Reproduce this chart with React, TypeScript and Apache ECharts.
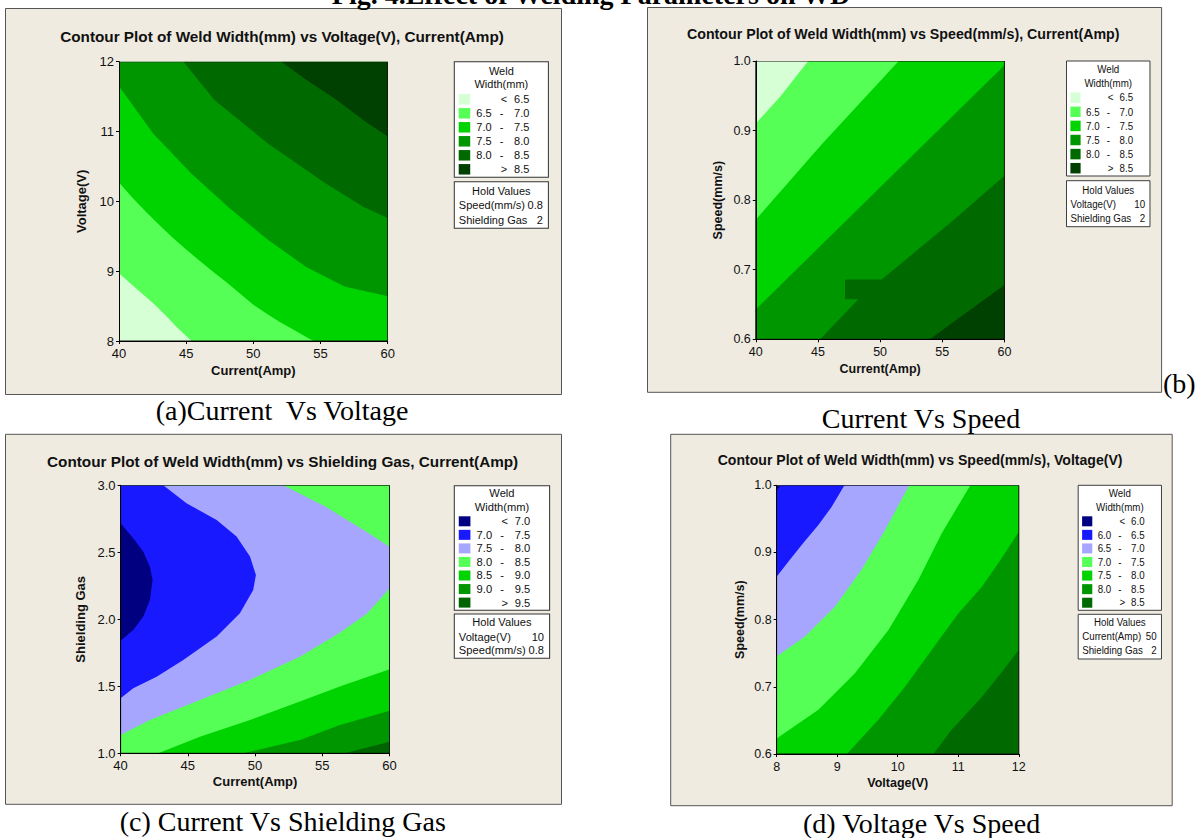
import React, { useEffect, useRef } from 'react';
import * as echarts from 'echarts';

// ---------------- DATA ----------------
const FIG_TITLE = 'Fig. 4.Effect of Welding Parameters on WD';
const plotTitles = [
  'Contour Plot of Weld Width(mm) vs Voltage(V), Current(Amp)',
  'Contour Plot of Weld Width(mm) vs Speed(mm/s), Current(Amp)',
  'Contour Plot of Weld Width(mm) vs Shielding Gas, Current(Amp)',
  'Contour Plot of Weld Width(mm) vs Speed(mm/s), Voltage(V)',
];
const captions = ['(a)Current  Vs Voltage', 'Current Vs Speed', '(c) Current Vs Shielding Gas', '(d) Voltage Vs Speed'];
const captionB = '(b)';

// axes
const currentRange = [40, 60];
const voltageRange = [8, 12];
const speedRange = [0.6, 1.0];
const gasRange = [1.0, 3.0];
const currentStep = 5;
const voltageStep = 1;
const speedStep = 0.1;
const gasStep = 0.5;

// legend breakpoints
const breaksAB = [6.5, 7.0, 7.5, 8.0, 8.5];
const breaksC = [7.0, 7.5, 8.0, 8.5, 9.0, 9.5];
const breaksD = [6.0, 6.5, 7.0, 7.5, 8.0, 8.5];

// hold values
const holdA = [['Speed(mm/s)', '0.8'], ['Shielding Gas', '2']];
const holdB = [['Voltage(V)', '10'], ['Shielding Gas', '2']];
const holdC = [['Voltage(V)', '10'], ['Speed(mm/s)', '0.8']];
const holdD = [['Current(Amp)', '50'], ['Shielding Gas', '2']];

// colours per band (low -> high)
const greens = ['#D6FFD6', '#55FF55', '#00D400', '#009600', '#006A00', '#004000'];
const blueGreensC = ['#000080', '#1919FF', '#A6A6FF', '#55FF55', '#00D400', '#009600', '#006400'];
const blueGreensD = ['#000080', '#1919FF', '#A6A6FF', '#55FF55', '#00D400', '#009600', '#006A00'];

// contour lines, [x, y] in data units
// (a) Current vs Voltage
const a_c65 = [[40, 8.97], [41.3, 8.75], [42.55, 8.54], [43.5, 8.36], [44.29, 8.2], [45.4, 8]];
const a_c70 = [[40, 10.27], [41, 10.05], [42, 9.85], [43, 9.66], [44, 9.48], [45, 9.31], [46, 9.15], [47, 8.99], [48, 8.84], [49, 8.68], [50, 8.52], [51, 8.39], [52, 8.27], [53, 8.16], [54, 8.05], [54.5, 8]];
const a_c75 = [[40, 11.65], [42.54, 10.97], [45.38, 10.4], [48.23, 9.9], [51.08, 9.45], [53.93, 9.06], [56.78, 8.78], [60, 8.64]];
const a_c80 = [[44.8, 12], [47.1, 11.45], [51.08, 10.83], [55.36, 10.26], [58.2, 9.92], [60, 9.76]];
const a_c85 = [[52.08, 12], [53.93, 11.74], [56.21, 11.45], [58.2, 11.16], [60, 10.93]];
// (b) Current vs Speed
const b_c65 = [[40, 0.91], [41.97, 0.949], [44.22, 1.0]];
const b_c70 = [[40, 0.772], [45.4, 0.882], [51.5, 1.0]];
const b_c75 = [[40, 0.643], [60, 0.994]];
const b_c80 = [[45.17, 0.6], [48.25, 0.6575], [47.18, 0.6575], [47.18, 0.686], [50.13, 0.686], [55.89, 0.771], [60, 0.835]];
const b_c85 = [[54.0, 0.6], [60, 0.678]];
// (c) Current vs Shielding Gas
const c_c70 = [[40, 2.716], [40.94, 2.604], [41.69, 2.505], [42.18, 2.393], [42.38, 2.294], [42.18, 2.144], [41.69, 2.02], [40.94, 1.92], [40, 1.84]];
const c_c75 = [[43.17, 3.0], [44.9, 2.866], [47.14, 2.741], [48.62, 2.617], [49.62, 2.468], [50.06, 2.331], [49.86, 2.219], [48.87, 2.045], [47.14, 1.871], [44.66, 1.697], [42.68, 1.572], [40.94, 1.485], [40, 1.41]];
const c_c80 = [[52.09, 3.0], [55.22, 2.841], [58.07, 2.667], [60, 2.542], [60, 2.231], [58.35, 2.045], [56.3, 1.9], [53.33, 1.721], [49.6, 1.547], [45.9, 1.398], [42.18, 1.249], [40, 1.137]];
const c_c85 = [[42.8, 1.0], [45.9, 1.124], [49.62, 1.249], [53.33, 1.386], [56.3, 1.498], [60, 1.627]];
const c_c90 = [[49.12, 1.0], [53.33, 1.1], [56.3, 1.211], [60, 1.318]];
const c_c95 = [[56.64, 1.0], [60, 1.087]];
// (d) Voltage vs Speed
const d_c60 = [[8, 0.992], [8.07, 1.0]];
const d_c65 = [[9.12, 1.0], [8.91, 0.968], [8.69, 0.941], [8.44, 0.914], [8.19, 0.886], [8, 0.864]];
const d_c70 = [[10.19, 1.0], [9.79, 0.933], [9.4, 0.874], [8.96, 0.819], [8.47, 0.775], [8, 0.745]];
const d_c75 = [[11.2, 1.0], [10.73, 0.929], [10.34, 0.859], [9.85, 0.785], [9.29, 0.72], [8.69, 0.666], [8, 0.623]];
const d_c80 = [[9.16, 0.6], [9.68, 0.651], [10.12, 0.7], [10.56, 0.755], [11.0, 0.809], [11.39, 0.849], [11.7, 0.889], [12, 0.931]];
const d_c85 = [[10.59, 0.6], [10.89, 0.636], [11.39, 0.685], [11.7, 0.72], [12, 0.755]];

// ---------------- BUILD ----------------
const FONT = "'Liberation Sans', Arial, sans-serif";
const SERIF = "'Liberation Serif', 'Times New Roman', serif";

const rect = (xr: number[], yr: number[]) => [[xr[0], yr[0]], [xr[1], yr[0]], [xr[1], yr[1]], [xr[0], yr[1]]];

function layersA() {
  const [x0, x1] = currentRange, [y0, y1] = voltageRange;
  return [
    { c: greens[0], p: rect(currentRange, voltageRange) },
    { c: greens[1], p: [...a_c65, [x1, y0], [x1, y1], [x0, y1]] },
    { c: greens[2], p: [...a_c70, [x1, y0], [x1, y1], [x0, y1]] },
    { c: greens[3], p: [...a_c75, [x1, y1], [x0, y1]] },
    { c: greens[4], p: [...a_c80, [x1, y1]] },
    { c: greens[5], p: [...a_c85, [x1, y1]] },
  ];
}
function layersB() {
  const [x0, x1] = currentRange, [y0, y1] = speedRange;
  return [
    { c: greens[0], p: rect(currentRange, speedRange) },
    { c: greens[1], p: [...b_c65, [x1, y1], [x1, y0], [x0, y0]] },
    { c: greens[2], p: [...b_c70, [x1, y1], [x1, y0], [x0, y0]] },
    { c: greens[3], p: [...b_c75, [x1, y0], [x0, y0]] },
    { c: greens[4], p: [...b_c80, [x1, y0]] },
    { c: greens[5], p: [...b_c85, [x1, y0]] },
  ];
}
function layersC() {
  const [x0, x1] = currentRange, [y0, y1] = gasRange;
  const P = blueGreensC;
  return [
    { c: P[6], p: rect(currentRange, gasRange) },
    { c: P[5], p: [...c_c95, [x1, y1], [x0, y1], [x0, y0]] },
    { c: P[4], p: [...c_c90, [x1, y1], [x0, y1], [x0, y0]] },
    { c: P[3], p: [...c_c85, [x1, y1], [x0, y1], [x0, y0]] },
    { c: P[2], p: [...c_c80, [x0, y1]] },
    { c: P[1], p: [...c_c75, [x0, y1]] },
    { c: P[0], p: [...c_c70] },
  ];
}
function layersD() {
  const [x0, x1] = voltageRange, [y0, y1] = speedRange;
  const P = blueGreensD;
  return [
    { c: P[0], p: rect(voltageRange, speedRange) },
    { c: P[1], p: [...d_c60, [x1, y1], [x1, y0], [x0, y0]] },
    { c: P[2], p: [...d_c65, [x0, y0], [x1, y0], [x1, y1]] },
    { c: P[3], p: [...d_c70, [x0, y0], [x1, y0], [x1, y1]] },
    { c: P[4], p: [...d_c75, [x0, y0], [x1, y0], [x1, y1]] },
    { c: P[5], p: [...d_c80, [x1, y0]] },
    { c: P[6], p: [...d_c85, [x1, y0]] },
  ];
}

const fmtInt = (v: number) => String(Math.round(v));
const fmt1 = (v: number) => v.toFixed(1);

const panels = [
  {
    grid: { left: 119, top: 61.7, width: 268.7, height: 279.3 },
    x: { range: currentRange, step: currentStep, fmt: fmtInt, name: 'Current(Amp)', gap: 23 },
    y: { range: voltageRange, step: voltageStep, fmt: fmtInt, name: 'Voltage(V)', gap: 31 },
    layers: layersA(),
    box: { x: 5.5, y: 8.5, w: 556, h: 386 },
    title: { x: 282, y: 36, s: 1 },
    caption: { x: 282, y: 410 },
    legend: { x: 454.3, y: 61.7, w: 94.1, h1: 115.6, hd1: 9, hd2: 22.6, r0: 37.6, rs: 14, sw: 10.5, hy: 120, h2: 46.6, ht: 9.6, hr: [23.6, 38.3] },
    breaks: breaksAB, colors: greens, hold: holdA, fs: 13,
  },
  {
    grid: { left: 755.8, top: 61, width: 248.6, height: 278.3 },
    x: { range: currentRange, step: currentStep, fmt: fmtInt, name: 'Current(Amp)', gap: 23 },
    y: { range: speedRange, step: speedStep, fmt: fmt1, name: 'Speed(mm/s)', gap: 31 },
    layers: layersB(),
    box: { x: 647.5, y: 7.5, w: 514.1, h: 384.8 },
    title: { x: 903.2, y: 34.3, s: 0.93 },
    caption: { x: 921, y: 418.3 },
    legend: { x: 1066.5, y: 61, w: 83.5, h1: 115, hd1: 8.7, hd2: 22.3, r0: 36.7, rs: 14.1, sw: 10.5, hy: 119.7, h2: 46, ht: 9.6, hr: [23.6, 37.6] },
    breaks: breaksAB, colors: greens, hold: holdB, fs: 12.5,
  },
  {
    grid: { left: 120.6, top: 485.3, width: 269, height: 268 },
    x: { range: currentRange, step: currentStep, fmt: fmtInt, name: 'Current(Amp)', gap: 22 },
    y: { range: gasRange, step: gasStep, fmt: fmt1, name: 'Shielding Gas', gap: 34 },
    layers: layersC(),
    box: { x: 5.5, y: 434.3, w: 556, h: 370 },
    title: { x: 282.6, y: 461, s: 1 },
    caption: { x: 282.8, y: 821.7 },
    legend: { x: 454.3, y: 485.7, w: 95.3, h1: 124.6, hd1: 7.6, hd2: 21.6, r0: 35.6, rs: 13.55, sw: 10, hy: 128.3, h2: 44.3, ht: 8.3, hr: [22.7, 35.7] },
    breaks: breaksC, colors: blueGreensC, hold: holdC, fs: 13,
  },
  {
    grid: { left: 776.6, top: 485.3, width: 242.2, height: 268.7 },
    x: { range: voltageRange, step: voltageStep, fmt: fmtInt, name: 'Voltage(V)', gap: 22.8 },
    y: { range: speedRange, step: speedStep, fmt: fmt1, name: 'Speed(mm/s)', gap: 30 },
    layers: layersD(),
    box: { x: 670.7, y: 434.3, w: 501.5, h: 371.4 },
    title: { x: 920.1, y: 460, s: 0.92 },
    caption: { x: 921.6, y: 823.3 },
    legend: { x: 1078.2, y: 485.3, w: 83.3, h1: 125, hd1: 8, hd2: 22, r0: 36, rs: 13.57, sw: 10, hy: 129, h2: 44.7, ht: 8, hr: [22.4, 36.4] },
    breaks: breaksD, colors: blueGreensD, hold: holdD, fs: 12.5,
  },
];

function legendGroup(L: any, breaks: number[], colors: string[], hold: string[][]) {
  const W = 94;
  const ch: any[] = [];
  const txt = (text: string, x: number, y: number, align = 'left') => ({
    type: 'text', x, y,
    style: { text, fontSize: 11, fontFamily: FONT, fill: '#111', align, verticalAlign: 'middle' },
  });
  ch.push({ type: 'rect', shape: { x: 0, y: 0, width: W, height: L.h1 }, style: { fill: '#fff', stroke: '#333', lineWidth: 1 } });
  ch.push(txt('Weld', W / 2, L.hd1, 'center'));
  ch.push(txt('Width(mm)', W / 2, L.hd2, 'center'));
  const n = breaks.length + 1;
  for (let k = 0; k < n; k++) {
    const yy = L.r0 + k * L.rs;
    ch.push({ type: 'rect', shape: { x: 4.4, y: yy - L.sw / 2, width: 11.5, height: L.sw }, style: { fill: colors[k] } });
    if (k === 0) {
      ch.push(txt('<', 46.5, yy));
      ch.push(txt(breaks[0].toFixed(1), 59.7, yy));
    } else if (k === n - 1) {
      ch.push(txt('>', 46.5, yy));
      ch.push(txt(breaks[n - 2].toFixed(1), 59.7, yy));
    } else {
      ch.push(txt(breaks[k - 1].toFixed(1), 22, yy));
      ch.push(txt('-', 45.3, yy));
      ch.push(txt(breaks[k].toFixed(1), 59.7, yy));
    }
  }
  ch.push({ type: 'rect', shape: { x: 0, y: L.hy, width: W, height: L.h2 }, style: { fill: '#fff', stroke: '#333', lineWidth: 1 } });
  ch.push(txt('Hold Values', W / 2, L.hy + L.ht, 'center'));
  hold.forEach(([lab, val], j) => {
    const yy = L.hy + L.hr[j];
    ch.push(txt(lab, 4.5, yy));
    ch.push(txt(val, 88.5, yy, 'right'));
  });
  return { type: 'group', x: L.x, y: L.y, scaleX: L.w / W, z: 10, children: ch };
}

function buildOption() {
  const grid: any[] = [], xAxis: any[] = [], yAxis: any[] = [], series: any[] = [], graphic: any[] = [];
  const BG = '#EFEBE1';

  graphic.push({
    type: 'text', x: 591, y: -6, z: 10,
    style: { text: FIG_TITLE, font: `bold 28px ${SERIF}`, fill: '#000', align: 'center', verticalAlign: 'middle' },
  });

  panels.forEach((P, i) => {
    graphic.push({
      type: 'rect', z: -10,
      shape: { x: P.box.x, y: P.box.y, width: P.box.w, height: P.box.h },
      style: { fill: BG, stroke: '#555', lineWidth: 1 },
    });
    graphic.push({
      type: 'text', x: P.title.x, y: P.title.y, scaleX: P.title.s, z: 10,
      style: { text: plotTitles[i], font: `bold 15.3px ${FONT}`, fill: '#111', align: 'center', verticalAlign: 'middle' },
    });
    graphic.push({
      type: 'text', x: P.caption.x, y: P.caption.y, z: 10,
      style: { text: captions[i], font: `28px ${SERIF}`, fill: '#000', align: 'center', verticalAlign: 'middle' },
    });
    graphic.push(legendGroup(P.legend, P.breaks, P.colors, P.hold));

    grid.push({ ...P.grid, show: false });
    const axisCommon = (A: any) => ({
      gridIndex: i, type: 'value', min: A.range[0], max: A.range[1], interval: A.step,
      name: A.name, nameLocation: 'middle', nameGap: A.gap, z: 5,
      nameTextStyle: { fontFamily: FONT, fontWeight: 'bold', fontSize: P.fs, color: '#111' },
      axisLine: { show: true, onZero: false, lineStyle: { color: '#000', width: 1 } },
      axisTick: { show: true, inside: false, length: 3, lineStyle: { color: '#000' } },
      axisLabel: { fontFamily: FONT, fontSize: P.fs, color: '#111', margin: 5, formatter: A.fmt },
      splitLine: { show: false },
    });
    xAxis.push({ ...axisCommon(P.x), axisLabel: { ...axisCommon(P.x).axisLabel, margin: 6 } });
    yAxis.push(axisCommon(P.y));

    const layers = P.layers;
    series.push({
      type: 'custom', coordinateSystem: 'cartesian2d', xAxisIndex: i, yAxisIndex: i,
      silent: true, z: 3, clip: true,
      data: [...layers.map((_, k) => k), layers.length],
      renderItem: (params: any, api: any) => {
        const k = params.dataIndex;
        if (k < layers.length) {
          const L = layers[k];
          return {
            type: 'polygon',
            shape: { points: L.p.map((pt: number[]) => api.coord(pt)) },
            style: { fill: L.c, stroke: null },
          };
        }
        const cs = params.coordSys;
        return {
          type: 'rect',
          shape: { x: cs.x, y: cs.y, width: cs.width, height: cs.height },
          style: { fill: 'none', stroke: '#111', lineWidth: 1 },
        };
      },
    });
  });

  graphic.push({
    type: 'text', x: 1163, y: 383.3, z: 10,
    style: { text: captionB, font: `28px ${SERIF}`, fill: '#000', align: 'left', verticalAlign: 'middle' },
  });

  return { animation: false, backgroundColor: '#fff', grid, xAxis, yAxis, series, graphic };
}

export default function App() {
  const ref = useRef<HTMLDivElement>(null);
  useEffect(() => {
    const chart = echarts.init(ref.current as HTMLDivElement, null, { renderer: 'svg' });
    chart.setOption(buildOption() as any);
    return () => chart.dispose();
  }, []);
  return <div ref={ref} style={{ position: 'absolute', left: 0, top: 0, width: 1199, height: 838 }} />;
}
